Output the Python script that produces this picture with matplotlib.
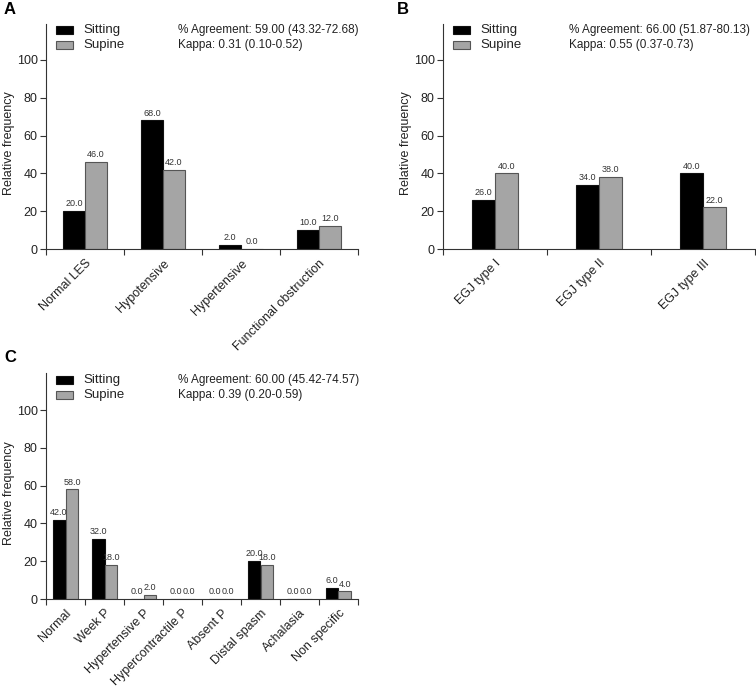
import matplotlib
matplotlib.use("Agg")
import matplotlib.pyplot as plt
import numpy as np

plt.rcParams['font.family'] = ['Liberation Sans', 'DejaVu Sans']

# ---- data ----
cats_a = ["Normal LES", "Hypotensive", "Hypertensive", "Functional obstruction"]
sit_a = [20.0, 68.0, 2.0, 10.0]
sup_a = [46.0, 42.0, 0.0, 12.0]
stats_a = ["% Agreement: 59.00 (43.32-72.68)", "Kappa: 0.31 (0.10-0.52)"]

cats_b = ["EGJ type I", "EGJ type II", "EGJ type III"]
sit_b = [26.0, 34.0, 40.0]
sup_b = [40.0, 38.0, 22.0]
stats_b = ["% Agreement: 66.00 (51.87-80.13)", "Kappa: 0.55 (0.37-0.73)"]

cats_c = ["Normal", "Week P", "Hypertensive P", "Hypercontractile P",
          "Absent P", "Distal spasm", "Achalasia", "Non specific"]
sit_c = [42.0, 32.0, 0.0, 0.0, 0.0, 20.0, 0.0, 6.0]
sup_c = [58.0, 18.0, 2.0, 0.0, 0.0, 18.0, 0.0, 4.0]
stats_c = ["% Agreement: 60.00 (45.42-74.57)", "Kappa: 0.39 (0.20-0.59)"]

series_names = ["Sitting", "Supine"]
yticks = [0, 20, 40, 60, 80, 100]

W, H = 756, 686
fig = plt.figure(figsize=(W / 100, H / 100), dpi=100)

SPINE = "#333333"
C_SIT = "#000000"
C_SUP = "#a5a5a5"


def px_axes(l, r, bottom, top):
    return fig.add_axes([l / W, 1 - bottom / H, (r - l) / W, (bottom - top) / H])


def panel(ax, cats, sit, sup, stats, bw, ytop, leg_x, leg_y0, stat_x):
    n = len(cats)
    x = np.arange(n)
    ax.bar(x - bw / 2, sit, bw, color=C_SIT, edgecolor="#111111", linewidth=0.8)
    ax.bar(x + bw / 2, sup, bw, color=C_SUP, edgecolor="#555555", linewidth=0.8)
    for xi, v in zip(x, sit):
        ax.text(xi - bw / 2, v + 1.5, f"{v:.1f}", ha="center", va="bottom",
                fontsize=6.5, color="#333333")
    for xi, v in zip(x, sup):
        ax.text(xi + bw / 2, v + 1.5, f"{v:.1f}", ha="center", va="bottom",
                fontsize=6.5, color="#333333")
    ax.set_xlim(-0.5, n - 0.5)
    ax.set_ylim(0, ytop)
    ax.set_yticks(yticks)
    ax.set_yticklabels([str(t) for t in yticks], fontsize=9, color="#222222")
    ax.set_xticks(np.arange(n + 1) - 0.5)
    ax.set_xticklabels([])
    ax.set_xticks(x, minor=True)
    ax.set_xticklabels(cats, minor=True, rotation=45, ha="right",
                       rotation_mode="anchor", fontsize=9, color="#222222")
    ax.tick_params(axis="x", which="minor", length=0, pad=6)
    ax.tick_params(axis="x", which="major", length=4, direction="out",
                   color=SPINE, width=0.8)
    ax.tick_params(axis="y", length=4, direction="out", color=SPINE,
                   width=0.8, pad=2)
    for s in ["top", "right"]:
        ax.spines[s].set_visible(False)
    for s in ["left", "bottom"]:
        ax.spines[s].set_color(SPINE)
        ax.spines[s].set_linewidth(0.8)
    ax.set_ylabel("Relative frequency", fontsize=9, color="#222222")
    ax.yaxis.set_label_coords(-0.1, 0.47)
    # legend (manual, pixel coords relative to figure)
    for i, (name, col, ec) in enumerate(zip(series_names, [C_SIT, C_SUP],
                                              ["#111111", "#555555"])):
        yy = leg_y0 + i * 15
        fig.patches.append(plt.Rectangle(((leg_x) / W, 1 - (yy + 4) / H),
                                         17 / W, 8 / H, transform=fig.transFigure,
                                         facecolor=col, edgecolor=ec, linewidth=0.8))
        fig.text((leg_x + 27) / W, 1 - yy / H, name, fontsize=9.5,
                 va="center", ha="left", color="#222222")
        fig.text(stat_x / W, 1 - yy / H, stats[i], fontsize=8.5,
                 va="center", ha="left", color="#222222")


axA = px_axes(46, 358, 249, 24)
panel(axA, cats_a, sit_a, sup_a, stats_a, 0.28, 119, 56, 30, 178)
axB = px_axes(443, 755, 249, 24)
panel(axB, cats_b, sit_b, sup_b, stats_b, 0.22, 119, 453, 30, 569)
axC = px_axes(46, 358, 599, 373)
panel(axC, cats_c, sit_c, sup_c, stats_c, 0.333, 119.6, 56, 380, 178)

fig.text(4 / W, 1 - 10 / H, "A", fontsize=12, fontweight="bold", va="center")
fig.text(397 / W, 1 - 10 / H, "B", fontsize=12, fontweight="bold", va="center")
fig.text(4 / W, 1 - 358 / H, "C", fontsize=12, fontweight="bold", va="center")

fig.savefig("out.png", dpi=100)
